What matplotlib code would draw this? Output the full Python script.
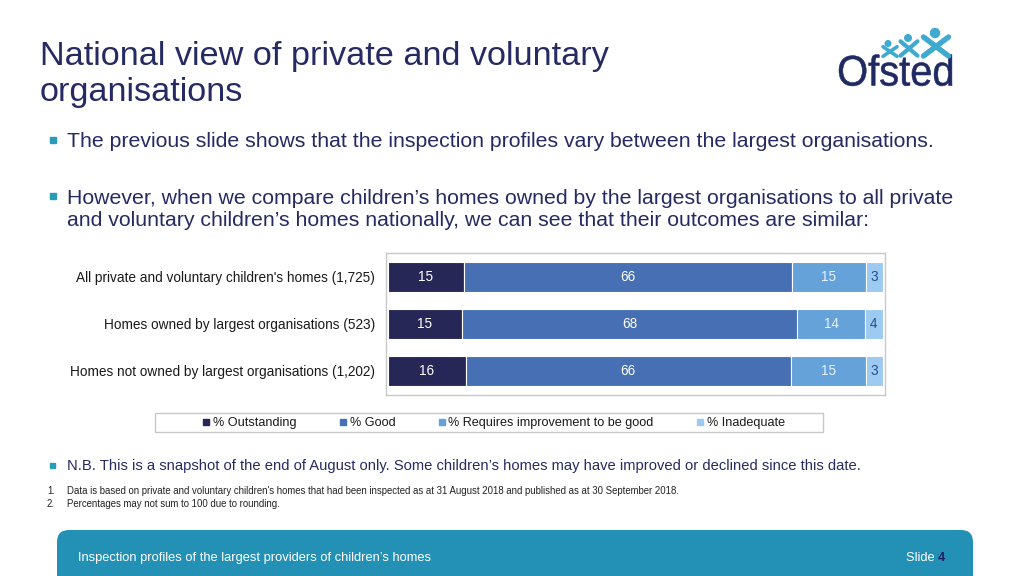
import matplotlib
matplotlib.use("Agg")
import matplotlib.pyplot as plt
from matplotlib.patches import Rectangle, FancyBboxPatch, Circle, PathPatch
from matplotlib.lines import Line2D
from matplotlib.textpath import TextPath
from matplotlib.font_manager import FontProperties
from matplotlib.transforms import Affine2D, IdentityTransform

# ---------------- data ----------------
categories = [
    "All private and voluntary children's homes (1,725)",
    "Homes owned by largest organisations (523)",
    "Homes not owned by largest organisations (1,202)",
]
series_names = ["% Outstanding", "% Good", "% Requires improvement to be good", "% Inadequate"]
outstanding = [15.3, 14.9, 15.7]
good = [66.4, 67.8, 65.7]
requires_improvement = [14.8, 13.6, 15.1]
inadequate = [3.4, 3.7, 3.4]
series_values = [outstanding, good, requires_improvement, inadequate]
series_colors = ["#272757", "#4670B3", "#64A2D9", "#9DCAF0"]
label_colors = ["white", "white", "#EAF3FB", "#1F4E8C"]

title_lines = ["National view of private and voluntary", "organisations"]
bullet1 = "The previous slide shows that the inspection profiles vary between the largest organisations."
bullet2 = ["However, when we compare children\u2019s homes owned by the largest organisations to all private",
           "and voluntary children\u2019s homes nationally, we can see that their outcomes are similar:"]
nb_text = "N.B. This is a snapshot of the end of August only. Some children\u2019s homes may have improved or declined since this date."
footnotes = ["Data is based on private and voluntary children's homes that had been inspected as at 31 August 2018 and published as at 30 September 2018.",
             "Percentages may not sum to 100 due to rounding."]
footer_text = "Inspection profiles of the largest providers of children\u2019s homes"

W, H = 1024, 576
NAVY = "#262A63"
TEAL = "#2A9CB8"
BODY_FONT = ["Liberation Sans", "DejaVu Sans"]

fig = plt.figure(figsize=(W / 100, H / 100), dpi=100)
fig.patch.set_facecolor("white")


def fx(x):
    return x / W


def fy(y):
    return 1 - y / H


def ftext(x, y, s, **kw):
    kw.setdefault("va", "baseline")
    kw.setdefault("family", BODY_FONT)
    fig.text(fx(x), fy(y), s, **kw)


# ---------------- title ----------------
ftext(40, 65, title_lines[0], fontsize=24.7, color=NAVY)
ftext(40, 101, title_lines[1], fontsize=24.7, color=NAVY)

# ---------------- logo (display pixel coords) ----------------
ident = IdentityTransform()
tp = TextPath((0, 0), "Ofsted", size=100, prop=FontProperties(family="Liberation Sans"))
ext = tp.get_extents()
sx = (952 - 839) / ext.width
sy = (85.5 - 54.5) / ext.y1
logo_tf = Affine2D().translate(-ext.x0, 0).scale(sx, sy).translate(839, H - 85.5) + ident
fig.add_artist(PathPatch(tp, transform=logo_tf, facecolor="#1F2A63", edgecolor="#1F2A63",
                         lw=0.4, joinstyle="round"))

LOGO = "#3FAAD0"
# (head_x, head_y, head_r, x_center_x, x_center_y, half_w, half_h, line_width)
logo_figs = [(888, 43.5, 2.8, 890, 51.5, 7, 4.8, 2.6),
             (908, 38, 3.3, 909, 48.5, 8.5, 7.2, 3.0),
             (935, 33, 4.5, 936, 46.5, 12.5, 9.5, 3.9)]
for hx, hy, r, cx, cy, hw, hh, lw in logo_figs:
    fig.add_artist(Circle((hx, H - hy), r, transform=ident, color=LOGO))
    for sgn in (1, -1):
        fig.add_artist(Line2D([cx - sgn * hw, cx + sgn * hw], [H - (cy - hh), H - (cy + hh)],
                              color=LOGO, lw=lw, solid_capstyle="round", transform=ident))

# ---------------- bullets ----------------
def bullet(x, y, size=6):
    fig.add_artist(Rectangle((x, H - y - size / 2), size, size, transform=ident, color=TEAL))


bullet(50, 140)
ftext(67, 147, bullet1, fontsize=15.35, color=NAVY)
bullet(50, 196)
ftext(67, 204, bullet2[0], fontsize=15.35, color=NAVY)
ftext(67, 226, bullet2[1], fontsize=15.35, color=NAVY)

bullet(50, 465, 5)
ftext(67, 470, nb_text, fontsize=10.6, color=NAVY)
for i, note in enumerate(footnotes):
    yb = 494 + i * 13
    ftext(47, yb, f"{i + 1}.", fontsize=6.9, color="#222222")
    ftext(67, yb, note, fontsize=6.9, color="#222222")

# ---------------- chart ----------------
ax = fig.add_axes([fx(386), fy(395), (885 - 386) / W, (395 - 253) / H])
y = list(range(len(categories)))
left = [0.0] * len(categories)
for vals, name, col, lc in zip(series_values, series_names, series_colors, label_colors):
    ax.barh(y, vals, left=left, height=0.64, color=col, edgecolor="white",
            linewidth=0.8, label=name)
    for yi, v, l0 in zip(y, vals, left):
        ax.text(l0 + v / 2, yi, f"{round(v):d}", ha="center", va="center",
                fontsize=9.8, color=lc, family=BODY_FONT)
    left = [a + b for a, b in zip(left, vals)]
ax.set_xlim(-0.4, 100.4)
ax.set_ylim(2.5, -0.5)
ax.set_xticks([])
ax.set_yticks([])
for s in ax.spines.values():
    s.set_color("#C8C8C8")
    s.set_linewidth(1)

for i, cat in enumerate(categories):
    ftext(375, 282 + 47 * i, cat, fontsize=9.8, color="#1A1A1A", ha="right")

# legend
fig.add_artist(Rectangle((155, H - 432), 823 - 155, 432 - 413, transform=ident,
                         facecolor="white", edgecolor="#C8C8C8", linewidth=1))
handles = [Line2D([], [], marker="s", linestyle="none", markersize=4.3,
                  markerfacecolor=c, markeredgecolor=c) for c in series_colors]
leg = fig.legend(handles, series_names, loc="center", bbox_to_anchor=(fx(494), fy(423)),
                 ncol=4, frameon=False, handlelength=0.5, handletextpad=0.3,
                 columnspacing=3.4, prop={"family": BODY_FONT, "size": 9.1})
for t in leg.get_texts():
    t.set_color("#1A1A1A")

# ---------------- footer ----------------
fig.add_artist(FancyBboxPatch((57, -30), 973 - 57, H - 530 + 30,
                              boxstyle="round,pad=0,rounding_size=12",
                              transform=ident, facecolor="#2391B6", edgecolor="none"))
ftext(78, 561, footer_text, fontsize=9.3, color="white")
ftext(938, 561, "Slide ", fontsize=9.3, color="white", ha="right")
ftext(938, 561, "4", fontsize=9.3, color="#1F2060", fontweight="bold")

fig.savefig("out.png", dpi=100)
